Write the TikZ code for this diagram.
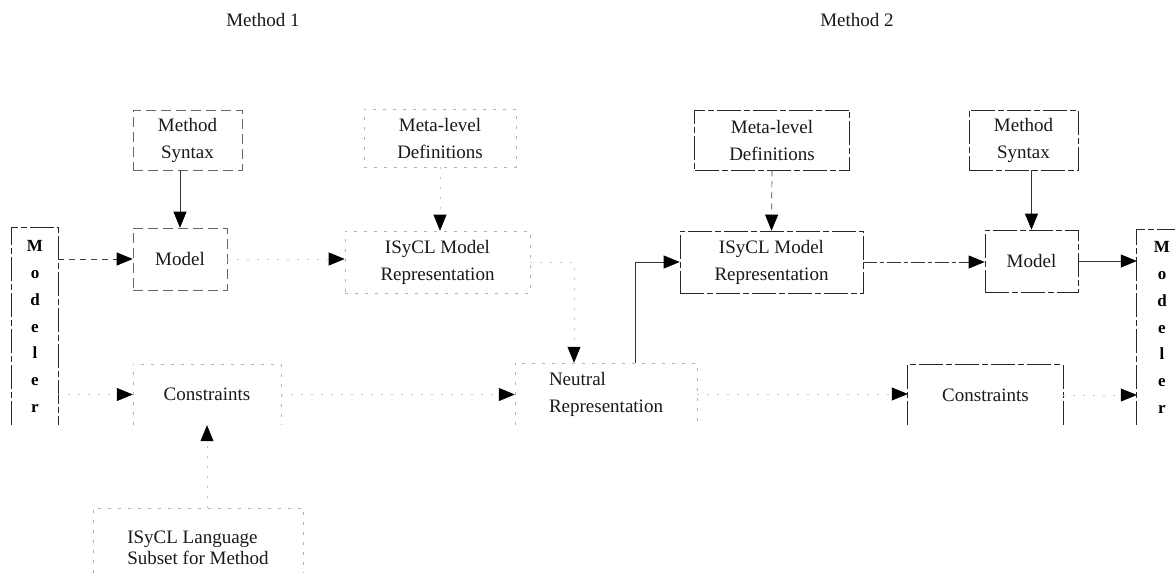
\documentclass[tikz,border=0pt]{standalone}
\usepackage{fontspec}
\setmainfont{Liberation Serif}
\usetikzlibrary{arrows.meta,calc}

\begin{document}
\begin{tikzpicture}[x=1pt,y=-1pt,
  lbl/.style={font=\fontsize{19}{27}\selectfont, align=center, inner sep=0pt, text=black!90},
  vlbl/.style={font=\bfseries\fontsize{17}{26.8}\selectfont, align=center, inner sep=0pt},
  frame/.style={draw=black!85, line width=0.7pt, dash pattern=on 24pt off 3pt on 6pt off 3pt},
  midframe/.style={draw=black!60, line width=0.6pt, dash pattern=on 10pt off 5pt},
  faintframe/.style={draw=black!30, line width=0.6pt, dash pattern=on 3pt off 7pt},
  tip/.style={-{Triangle[length=16pt,width=13pt,color=black]}},
  solidc/.style={tip, draw=black!80, line width=0.7pt},
  dashc/.style={tip, draw=black!75, line width=0.7pt, dash pattern=on 6pt off 5pt},
  dashdotc/.style={tip, draw=black!80, line width=0.7pt, dash pattern=on 14pt off 3pt on 4pt off 3pt},
  faintc/.style={tip, draw=black!22, line width=0.6pt, dash pattern=on 2pt off 8pt}
]
\useasboundingbox (0,0) rectangle (1175,573);
\fill[white] (0,0) rectangle (1175,573);
\coordinate (pgbot) at (0,573);
\coordinate (pgright) at (1175,0);

% titles
\node[lbl] (m1) at (263,20) {Method 1};
\node[lbl] (m2) at (857,20) {Method 2};

% ---- Method 1 side
\node[vlbl, minimum width=46pt, minimum height=197pt] (modL) at (35,326.5) {M\\o\\d\\e\\l\\e\\r};
\draw[frame] (modL.south west) |- (modL.north east) -- (modL.south east);

\node[lbl, midframe, minimum width=109pt, minimum height=60pt] (synL) at (187.5,140) {Method\\Syntax};
\node[lbl, midframe, minimum width=94pt, minimum height=62pt] (modelL) at (180,259) {Model};
\node[lbl, minimum width=148pt, minimum height=61pt] (constrL) at (207,394.5) {Constraints};
\draw[faintframe] (constrL.south west) |- (constrL.north east) -- (constrL.south east);

\node[lbl, align=left, minimum width=210pt, minimum height=80pt] (langL) at (198,548) {ISyCL Language\\[-6pt]Subset for Method};
\draw[faintframe] (langL.west |- pgbot) |- (langL.north east) -- (langL.east |- pgbot);

\node[lbl, faintframe, minimum width=152pt, minimum height=58pt] (metaL) at (440,138) {Meta-level\\Definitions};
\node[lbl, faintframe, minimum width=185pt, minimum height=62pt] (repL) at (437.5,262) {ISyCL Model\\Representation};

\node[lbl, align=left, minimum width=182pt, minimum height=62pt] (neutral) at (606,394) {Neutral\\Representation};
\draw[faintframe] (neutral.south west) |- (neutral.north east) -- (neutral.south east);

% ---- Method 2 side
\node[lbl, frame, minimum width=155pt, minimum height=60pt] (metaR) at (772,140) {Meta-level\\Definitions};
\node[lbl, frame, minimum width=183pt, minimum height=62pt] (repR) at (771.5,262) {ISyCL Model\\Representation};
\node[lbl, frame, minimum width=109pt, minimum height=60pt] (synR) at (1023.5,140) {Method\\Syntax};
\node[lbl, frame, minimum width=93pt, minimum height=62pt] (modelR) at (1031.5,261) {Model};
\node[lbl, minimum width=155pt, minimum height=60pt] (constrR) at (985.5,395) {Constraints};
\draw[frame] (constrR.south west) |- (constrR.north east) -- (constrR.south east);

\node[vlbl, minimum width=50pt, minimum height=195pt] (modR) at (1162,327.5) {M\\o\\d\\e\\l\\e\\r};
\draw[frame] (modR.south west) |- (modR.north -| pgright);

% ---- connectors
\draw[dashc] (modelL.west -| modL.east) -- (modelL.west);
\draw[faintc] (constrL.west -| modL.east) -- (constrL.west);
\draw[solidc] (synL.south -| modelL.north) -- (modelL.north);
\draw[faintc] (langL.north -| constrL.south) -- (constrL.south);
\draw[faintc] (modelL.east) -- (modelL.east -| repL.west);
\draw[faintc] (metaL.south) -- (metaL.south |- repL.north);
\draw[faintc] (repL.east) -| ([xshift=-32pt]neutral.north);
\draw[faintc] (constrL.east) -- (constrL.east -| neutral.west);
\draw[solidc] ([xshift=29pt]neutral.north) |- (repR.west);
\draw[dashc] (metaR.south) -- (repR.north);
\draw[dashdotc] (repR.east) -- (repR.east -| modelR.west);
\draw[solidc] (synR.south -| modelR.north) -- (modelR.north);
\draw[solidc] (modelR.east) -- (modelR.east -| modR.west);
\draw[faintc] (neutral.east) -- (neutral.east -| constrR.west);
\draw[faintc] (constrR.east) -- (constrR.east -| modR.west);
\end{tikzpicture}
\end{document}
